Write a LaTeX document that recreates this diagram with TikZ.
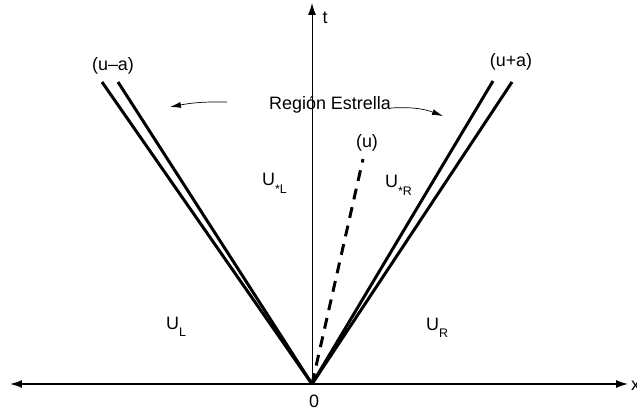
\documentclass[tikz,border=0pt]{standalone}
\usepackage{fontspec}
\setmainfont{Liberation Sans}
\usetikzlibrary{arrows.meta}
\tikzset{
  rp axis/.style={draw=black, line width=1.3pt},
  rp time axis/.style={draw=black, line width=0.9pt},
  rp wave/.style={draw=black, line width=3pt},
  rp contact/.style={draw=black, line width=3pt, dash pattern=on 11pt off 8pt},
  rp pointer/.style={draw=black, line width=0.7pt, -{Latex[length=11pt,width=6pt]}},
  rp label/.style={font=\fontsize{18}{21}\selectfont, inner sep=0pt},
}
\newcommand{\rpsub}[3]{#1\raisebox{#3}{\fontsize{12.5}{15}\selectfont #2}}

\begin{document}
\begin{tikzpicture}[x=1bp, y=1bp]
  \useasboundingbox (-312,-29) rectangle (325,384);
  \coordinate (o) at (0,0);
  \coordinate (xl) at (-302,0);
  \coordinate (xr) at (316,0);
  \coordinate (tt) at (0,381);
  % Axes
  \draw[rp axis, {Latex[length=12pt,width=8pt]}-{Latex[length=12pt,width=8pt]}] (xl) -- (xr);
  \draw[rp time axis, -{Latex[length=12pt,width=8pt]}] (o) -- (tt);
  \node[rp label, anchor=west] (xlab) at (319,-2) {x};
  \node[rp label] (tlab) at (13,366) {t};
  \node[rp label] (zero) at (2,-17) {0};
  % Wave fans
  \coordinate (la) at (-210,302);
  \coordinate (lb) at (-194,302);
  \coordinate (ra) at (181,303);
  \coordinate (rb) at (200,302);
  \coordinate (ct) at (51,225);
  \draw[rp wave] (o) -- (la);
  \draw[rp wave] (o) -- (lb);
  \draw[rp wave] (o) -- (ra);
  \draw[rp wave] (o) -- (rb);
  \draw[rp contact] (o) -- (ct);
  \node[rp label] (uma) at (-199,318) {(u–a)};
  \node[rp label] (upa) at (199,322) {(u+a)};
  \node[rp label] (uu) at (55,241) {(u)};
  % Star region
  \node[rp label] (star) at (18,279) {Región Estrella};
  \coordinate (sl) at (-85,282);
  \coordinate (slt) at (-142,277);
  \coordinate (srt) at (131,268);
  \draw[rp pointer] (sl) to[bend right=6] (slt);
  \draw[rp pointer] ([yshift=-3bp]star.east) to[bend left=12] (srt);
  % States
  \node[rp label, anchor=base west] (usl) at (-50,199) {\rpsub{U}{*L}{-8bp}};
  \node[rp label, anchor=base west] (usr) at (73,197) {\rpsub{U}{*R}{-8bp}};
  \node[rp label, anchor=base west] (ul) at (-146,55) {\rpsub{U}{L}{-7bp}};
  \node[rp label, anchor=base west] (ur) at (114,54) {\rpsub{U}{R}{-7bp}};
\end{tikzpicture}
\end{document}
